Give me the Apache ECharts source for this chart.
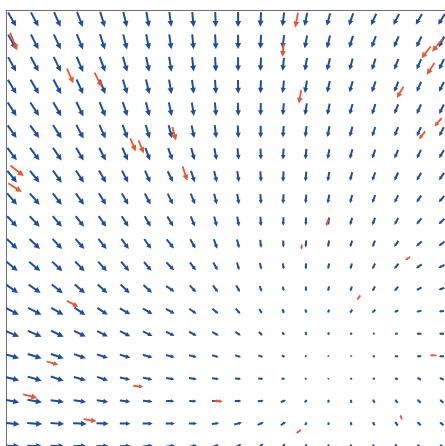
<!DOCTYPE html>
<html>
<head>
<meta charset="utf-8">
<script src="https://cdn.jsdelivr.net/npm/echarts@6/dist/echarts.min.js"></script>
<style>
html,body{margin:0;padding:0;background:#fff;}
#main{width:445px;height:446px;}
</style>
</head>
<body>
<div id="main"></div>
<script>
// grid columns (x) and rows (y) of the vector field
const cols = [0,1,2,3,4,5,6,7,8,9,10,11,12,13,14,15,16,17,18,19];
const rows = [0,1,2,3,4,5,6,7,8,9,10,11,12,13,14,15,16,17,18,19];

// direction (degrees, clockwise from +x on screen) per row
const angles = [
 [60,62,66,69,73,77,80,83,85,88,90,93,97,101,105,109,114,117,120,122],
 [62,63,65,68,72,76,79,82,85,87,90,93,97,101,104,107,110,113,115,117],
 [61,62,64,67,70,74,78,81,84,87,90,93,96,100,104,105,108,111,113,115],
 [59,60,62,66,69,73,77,80,83,86,89,92,96,100,103,106,109,112,114,116],
 [57,57,60,64,68,72,76,78,81,85,88,91,95,99,102,105,108,111,114,116],
 [55,55,58,62,66,70,74,76,79,83,87,90,94,97,100,105,108,111,114,117],
 [53,53,56,60,63,67,70,71,75,79,84,88,93,96,100,105,109,113,116,120],
 [51,51,54,57,60,63,66,64,71,76,81,86,93,95,100,105,110,115,120,124],
 [49,49,52,55,58,61,63,64,68,76,80,86,93,95,100,105,111,117,124,130],
 [47,47,50,53,55,58,60,59,67,75,79,86,92,92,100,106,110,118,130,137],
 [44,44,47,50,52,54,55,51,61,70,76,83,90,95,100,108,112,124,139,143],
 [40,40,43,46,48,50,50,46,54,60,73,77,82,93,101,107,115,129,146,153],
 [35,35,38,41,43,44,42,34,48,53,60,70,80,90,102,110,117,130,150,160],
 [27,27,30,34,34,30,30,30,35,40,48,58,70,80,110,125,138,153,165,172],
 [23,23,26,26,27,27,26,25,28,30,35,42,55,80,100,125,143,153,180,180],
 [16,17,19,19,18,17,16,15,15,16,18,20,25,40,60,120,180,180,180,180],
 [14,16,18,16,18,13,12,10,8,8,5,3,0,-20,-60,240,215,205,208,208],
 [11,10,8,8,9,7,4,1,3,0,0,-5,-20,-45,-80,-100,-120,-130,-135,-140],
 [5,4,4,3,3,1,0,0,0,-8,-15,-25,-35,-70,-90,-100,-115,-125,-135,-140],
 [3,2,2,1,0,-2,-5,-10,-15,-20,-28,-38,-50,-70,-90,-105,-118,-128,-135,-140]
];

// magnitude per row
const speeds = [
 [16,16,16,16,16,15.5,15.5,15,15,15,15,14.5,14,13.5,13,13,12.5,12.5,12.5,12.5],
 [16.5,16.5,16.5,16.5,16,15.5,15.5,15,15,15,14.5,14,13.5,13,13,12.5,12.5,12,12,12],
 [16.5,16.5,16.5,16.5,16,15.5,15,15,14.5,14.5,14,13.5,13,13,12.5,12,12,11.5,11.5,11.5],
 [16.5,16.5,16.5,16,15.5,15,15,14.5,14,14,13.5,13,12.5,12.5,12,11.5,11.5,11,11,11],
 [16,16,16,16,15.5,15,14.5,14,13.5,13.5,13,12.5,12,12,11.5,11,11,10.5,10.5,10.5],
 [15.5,15.5,16,15.5,15,14.5,14,13.5,13,13,12.5,12,11.5,11,11,10.5,10,10,10,10],
 [15.5,15.5,15.5,15,14.5,14,13.5,13,12.5,12,11.5,11,11,10.5,10,10,9.5,9.5,9.5,9.5],
 [15,15,15,14.5,14,13.5,13,12,12,11.5,11,10.5,10.5,10,9.5,9,9,9,9,9],
 [15,15,14.5,14,13.5,13,12.5,12,11.5,11,10.5,10,9.5,9,9,8.5,8.5,8.5,8.5,8.5],
 [14.5,14.5,14,13.5,13,12.5,12,11.5,11,10.5,10,9.5,8.5,8,8,8,8,8,8,8],
 [14.5,14.5,14,13.5,13,12.5,12,11.5,10.5,10,9,8,7,7,7,7,7,7.5,7.5,7.5],
 [14.5,14.5,14,13.5,13,12.5,11.5,11,10,9,8,7,6,6,6,6,6.5,7,7,7],
 [14.5,14.5,14,13.5,13,12.5,11.5,10,9.5,8.5,7.5,6,4.5,4.7,5,5,5.5,6,6,6],
 [15,15,14,13,12.5,12,11,10,9,8,7,5.5,4.5,4,3.5,4,4.5,4.5,5.3,5],
 [15,15,14,13,12,11.5,10.5,9.5,8.5,7.5,6.5,5,3.5,3.5,3,2.5,2,3,5,5],
 [14.5,14.5,13.5,12.5,11.5,11,10,9,8,7,6,5,3.5,2,1.5,1.5,2.5,3.5,4.5,5],
 [14.5,14.5,13.5,12.5,11.5,10.5,9.5,8.5,8,7,6,5,3.5,2,1.5,2,2.5,3.5,4.7,5],
 [14.5,14.5,13.5,12.5,11.5,10.5,9.5,8.3,7.3,7,6.7,6,5.3,3.5,3,3.5,4,4.5,5,5],
 [15,15,13.5,13.5,12,10.5,10,9,8,7.3,8,6.7,6,3.5,3,3.5,4,5,5,5],
 [15,15,13.5,13,12,10.5,10,9,8,7.5,7.5,7,6.5,5,4,4,4.5,5,5,5]
];

// moving particles (red arrows)
const particleX = [0.07,2.57,3.81,5.35,5.71,7.17,7.65,0.22,0.13,2.68,1.79,0.8,3.45,5.58,9.12,12.7,15.33,18.63,17.21,13.94,12.81,17.5,12.59,12.74,18.32,18.81,18.52,17.17,18.85,18.14,11.99];
const particleY = [0.98,2.52,2.69,5.58,5.67,5.09,6.87,6.74,7.49,12.67,15.31,16.78,17.85,16.34,17.0,18.34,12.4,14.96,17.71,9.05,10.14,10.65,0.03,3.45,1.47,1.16,2.2,3.25,4.58,5.16,1.36];
const particleAngle = [68,66,63,67,67,75,72,38,33,28,16,14,10,6,4,-35,125,182,250,110,98,150,100,100,128,129,123,120,131,128,95];
const particleSpeed = [19,16,16,14,14,14,15,17,16,13,12,14.5,13,10,9,6,6,7,5,7,5,6,15,13.5,15,16,14,13,11,10,14];

const ARROW_SCALE = 1 / 22.5; // magnitude -> axis units
const BLUE = '#1d4f9f';
const RED = '#ec5530';

const fieldData = [];
rows.forEach((r, j) => cols.forEach((c, i) => fieldData.push([c, r, angles[j][i], speeds[j][i]])));
const particleData = particleX.map((x, k) => [x, particleY[k], particleAngle[k], particleSpeed[k]]);

// each arrow is one filled polygon: shaft + head
function makeArrow(color, halfShaft) {
  return function (params, api) {
    const x = api.value(0), y = api.value(1);
    const a = api.value(2) * Math.PI / 180;
    const m = api.value(3) * ARROW_SCALE;
    const dx = Math.cos(a) * m / 2, dy = Math.sin(a) * m / 2;
    const p0 = api.coord([x - dx, y - dy]);
    const p1 = api.coord([x + dx, y + dy]);
    const L = Math.hypot(p1[0] - p0[0], p1[1] - p0[1]) || 0.001;
    const ux = (p1[0] - p0[0]) / L, uy = (p1[1] - p0[1]) / L;
    const nx = -uy, ny = ux;
    const hl = Math.min(6, L * 0.42), hw = Math.max(hl * 0.5, halfShaft + 0.5);
    const b = [p1[0] - ux * hl, p1[1] - uy * hl];
    const s = halfShaft;
    const pts = [
      [p0[0] + nx * s, p0[1] + ny * s],
      [b[0] + nx * s, b[1] + ny * s],
      [b[0] + nx * hw, b[1] + ny * hw],
      [p1[0], p1[1]],
      [b[0] - nx * hw, b[1] - ny * hw],
      [b[0] - nx * s, b[1] - ny * s],
      [p0[0] - nx * s, p0[1] - ny * s]
    ];
    return {
      type: 'polygon',
      shape: { points: pts },
      style: { fill: color, stroke: null }
    };
  };
}

const chart = echarts.init(document.getElementById('main'));
chart.setOption({
  animation: false,
  backgroundColor: '#fff',
  grid: { left: 6, top: 10, width: 439, height: 436 },
  xAxis: {
    type: 'value', min: -0.27, max: 19.155, position: 'top',
    axisLine: { show: true, onZero: false, lineStyle: { color: '#6E7079' } },
    axisTick: { show: false }, axisLabel: { show: false }, splitLine: { show: false }
  },
  yAxis: {
    type: 'value', min: -0.42, max: 19, inverse: true,
    axisLine: { show: true, onZero: false, lineStyle: { color: '#6E7079' } },
    axisTick: { show: false }, axisLabel: { show: false }, splitLine: { show: false }
  },
  series: [
    { type: 'custom', clip: true, renderItem: makeArrow(BLUE, 1), data: fieldData, encode: { x: 0, y: 1 } },
    { type: 'custom', clip: true, renderItem: makeArrow(RED, 0.9), data: particleData, encode: { x: 0, y: 1 }, z: 3 }
  ]
});
</script>
</body>
</html>
